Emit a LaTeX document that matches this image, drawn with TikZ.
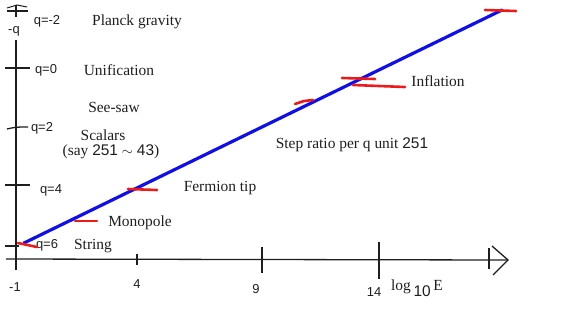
\documentclass[tikz,border=0pt]{standalone}
\usepackage{fontspec}
\setmainfont{Liberation Serif}
\setsansfont{Liberation Sans}
\usetikzlibrary{arrows.meta,positioning}
\definecolor{inkgray}{RGB}{30,30,30}
\definecolor{fitblue}{RGB}{15,15,235}
\definecolor{markred}{RGB}{240,25,25}
\tikzset{
  axisline/.style={draw=inkgray, line width=1.3pt},
  fitline/.style={draw=fitblue, line width=3.2pt, line cap=round},
  markline/.style={draw=markred, line width=2.6pt, line cap=round},
  scalelbl/.style={font=\fontsize{15.5}{18}\selectfont, text=inkgray, inner sep=0pt},
  qlbl/.style={font=\sffamily\fontsize{13}{15}\selectfont, text=inkgray, inner sep=0pt},
  ticklbl/.style={font=\sffamily\fontsize{13}{15}\selectfont, text=inkgray, inner sep=0pt}
}

\begin{document}
\begin{tikzpicture}[x=1bp, y=-1bp]
\useasboundingbox (0,0) rectangle (573,329);

% axes
\coordinate (ytop) at (16,40);
\coordinate (ybot) at (16,270);
\coordinate (xstart) at (6,259);
\coordinate (xend) at (508,260);
\draw[axisline] (ybot) -- (ytop);
\draw[axisline] (xstart) -- (xend);
\draw[axisline] ([shift={(-16,-14)}]xend) -- (xend) -- ([shift={(-15,15)}]xend);
\draw[axisline] (16,5) -- (16,17);
\draw[axisline, line width=1pt] (7,8) -- (17,5) -- (27,7);
\node[qlbl] (minusq) at (14,31) {-q};

% ticks on -q axis
\draw[axisline] (7,11) -- (28,11);
\draw[axisline] (5,68) -- (30,68);
\draw[axisline] (7,129) .. controls (16,127) .. (28,127);
\draw[axisline] (5,185) -- (30,185);
\draw[axisline] (5,246) -- (19,246);

% ticks on log E axis
\draw[axisline] (137,254) -- (137,265);
\draw[axisline] (262,247) -- (262,273);
\draw[axisline] (379,242) -- (379,279);
\draw[axisline] (489,248) -- (489,269);

% q labels
\node[qlbl] (qm2) at (47,21) {q=-2};
\node[qlbl] (q0) at (46,70) {q=0};
\node[qlbl] (q2) at (42,128) {q=2};
\node[qlbl] (q4) at (51,190) {q=4};
\node[qlbl] (q6) at (47,245) {q=6};

% E labels
\node[ticklbl] (em1) at (15,287) {-1};
\node[ticklbl] (e4) at (137,284) {4};
\node[ticklbl] (e9) at (256,289) {9};
\node[ticklbl] (e14) at (374,292) {14};
\node[scalelbl, anchor=west] (logE) at (391,288)
  {log\,\raisebox{-6pt}{\sffamily 10}\,E};

% the fit line and the scale marks
\draw[fitline] (24,243) -- (502,10);
\draw[markline] (485,10) -- (516,11);
\draw[markline] (342,78) -- (375,79);
\draw[markline] (353,85) -- (405,87);
\draw[markline] (295,104) -- (304,101) -- (313,100);
\draw[markline] (128,189) -- (157,190);
\draw[markline] (75,221) -- (97,221);
\draw[markline] (18,243) -- (37,247);

% scale names
\node[scalelbl] (planck) at (137,22) {Planck gravity};
\node[scalelbl] (unif) at (119,70) {Unification};
\node[scalelbl] (seesaw) at (114,107) {See-saw};
\node[scalelbl] (scalars) at (103,135) {Scalars};
\node[scalelbl] (say) at (111,152) {(say {\sffamily 251} $\sim$ {\sffamily 43})};
\node[scalelbl] (fermion) at (220,188) {Fermion tip};
\node[scalelbl] (monopole) at (140,223) {Monopole};
\node[scalelbl] (string) at (93,246) {String};
\node[scalelbl] (inflation) at (438,81) {Inflation};
\node[scalelbl] (step) at (352,145) {Step ratio per q unit {\sffamily 251}};
\end{tikzpicture}
\end{document}
